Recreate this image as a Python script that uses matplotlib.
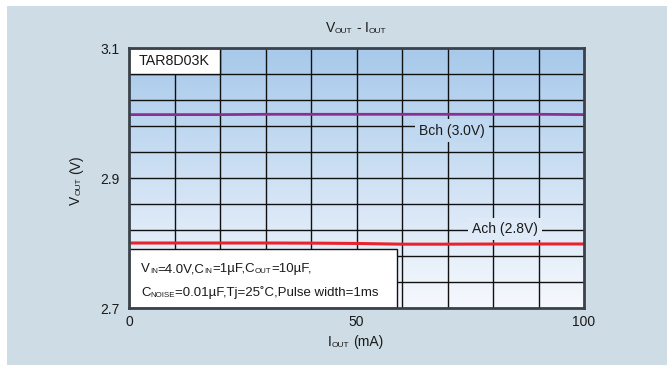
import numpy as np
import matplotlib
matplotlib.use("Agg")
import matplotlib.pyplot as plt
from matplotlib.patches import Rectangle
from matplotlib.colors import LinearSegmentedColormap

plt.rcParams['font.family'] = ['Liberation Sans', 'DejaVu Sans']

# Output current (mA) and measured output voltage (V) per channel
i_out = [0, 10, 20, 30, 40, 50, 60, 70, 80, 90, 100]
v_bch = [2.9975, 2.9975, 2.9975, 2.998, 2.998, 2.998, 2.998, 2.998, 2.998, 2.998, 2.9975]
v_ach = [2.800, 2.800, 2.800, 2.800, 2.7998, 2.7993, 2.7982, 2.7982, 2.7984, 2.7985, 2.7985]

x_ticks = [0, 50, 100]
y_ticks = [2.7, 2.9, 3.1]
part_name = "TAR8D03K"
bch_label = "Bch (3.0V)"
ach_label = "Ach (2.8V)"

W, H = 667, 365
TXT = '#1a1a1a'
fig = plt.figure(figsize=(W / 100, H / 100), dpi=100)
fig.patch.set_facecolor('white')
fig.patches.append(Rectangle((7 / W, 0), 1, (H - 6) / H, transform=fig.transFigure,
                             facecolor='#cedde5', edgecolor='none', zorder=-5))

ax = fig.add_axes([129 / W, 1 - 308 / H, (584 - 129) / W, (308 - 48) / H])
ax.set_xlim(0, 100)
ax.set_ylim(2.7, 3.1)

# vertical gradient background of the plotting area
top_c, bot_c = np.array([0.655, 0.788, 0.918]), np.array([0.965, 0.976, 0.996])
cmap = LinearSegmentedColormap.from_list('bg', [bot_c, top_c])
grad = np.linspace(0, 1, 256).reshape(-1, 1)
ax.imshow(grad, cmap=cmap, aspect='auto', extent=[0, 100, 2.7, 3.1],
          origin='lower', zorder=0, interpolation='bicubic')

def bg_at(v):
    t = (v - 2.7) / 0.4
    return tuple(bot_c + (top_c - bot_c) * t)

# grid
for gx in np.arange(10, 100, 10):
    ax.axvline(gx, color='#111111', lw=1.0, zorder=1)
for gy in np.arange(2.74, 3.09, 0.04):
    ax.axhline(gy, color='#111111', lw=1.0, zorder=1)

ax.plot(i_out, v_bch, color='#8b2f93', lw=2.0, zorder=4, solid_capstyle='butt')
ax.plot(i_out, v_ach, color='#e8232b', lw=2.2, zorder=4, solid_capstyle='butt')

ax.text(71, 2.973, bch_label, ha='center', va='center', fontsize=10, color=TXT, zorder=3,
        bbox=dict(boxstyle='square,pad=0.3', fc=bg_at(2.973), ec='none'))
ax.text(82.6, 2.822, ach_label, ha='center', va='center', fontsize=10, color=TXT, zorder=3,
        bbox=dict(boxstyle='square,pad=0.3', fc=bg_at(2.822), ec='none'))

# part name box in the upper-left grid cell
ax.add_patch(Rectangle((0, 3.06), 20, 0.04, facecolor='white', edgecolor='#111111',
                       lw=1.0, zorder=5))
ax.text(10, 3.08, part_name, ha='center', va='center', fontsize=10.3, color=TXT, zorder=6)

# measurement conditions box
ax.add_patch(Rectangle((0, 2.7), 59, 0.0905, facecolor='white', edgecolor='#111111',
                       lw=1.0, zorder=5))

for s in ax.spines.values():
    s.set_color('#3a414a')
    s.set_linewidth(2.0)
    s.set_zorder(7)

ax.set_xticks(x_ticks)
ax.set_yticks(y_ticks)
ax.set_xticklabels([str(v) for v in x_ticks])
ax.set_yticklabels([f'{v:.1f}' for v in y_ticks])
ax.tick_params(length=0, labelsize=10, pad=7, labelcolor=TXT)
ax.tick_params(axis='x', pad=5)

renderer = fig.canvas.get_renderer()


def rich(x, y, pieces, size, ha='left', rot=0):
    """Draw text made of normal and small subscript pieces; x, y in pixels from top-left.
    A float piece is a gap in pixels."""
    items = []
    for p in pieces:
        if isinstance(p, float):
            items.append((None, p, False))
            continue
        s, sub = p
        fs = size * 0.6 if sub else size
        t = fig.text(0, 0, s, fontsize=fs, color=TXT, ha='left', va='baseline',
                     rotation=rot, rotation_mode='anchor', zorder=10)
        bb = t.get_window_extent(renderer)
        items.append((t, bb.width if rot == 0 else bb.height, sub))
    total = sum(w for _, w, _ in items)
    if rot == 0:
        start = x - total / 2 if ha == 'center' else x
    else:
        start = y + total / 2
    pos = 0.0
    for t, w, sub in items:
        if t is not None:
            if rot == 0:
                px, py = start + pos, y + (1.0 if sub else 0.0)
            else:
                px, py = x + (1.0 if sub else 0.0), start - pos
            t.set_position((px / W, 1 - py / H))
        pos += w


rich(356, 32, [("V", False), ("OUT", True), 3.9, ("-", False), 3.9,
               ("I", False), ("OUT", True)], 10, ha='center')
rich(356, 346, [("I", False), ("OUT", True), 3.9, ("(mA)", False)], 10, ha='center')
rich(80, 180, [("V", False), ("OUT", True), 3.9, ("(V)", False)], 10, rot=90)

rich(141, 272, [("V", False), ("IN", True), ("=4.0V,C", False), ("IN", True),
                ("=1µF,C", False), ("OUT", True), ("=10µF,", False)], 9.5)
rich(141, 296, [("C", False), ("NOISE", True),
                ("=0.01µF,Tj=25˚C,Pulse width=1ms", False)], 9.5)

fig.savefig('out.png', dpi=100)
